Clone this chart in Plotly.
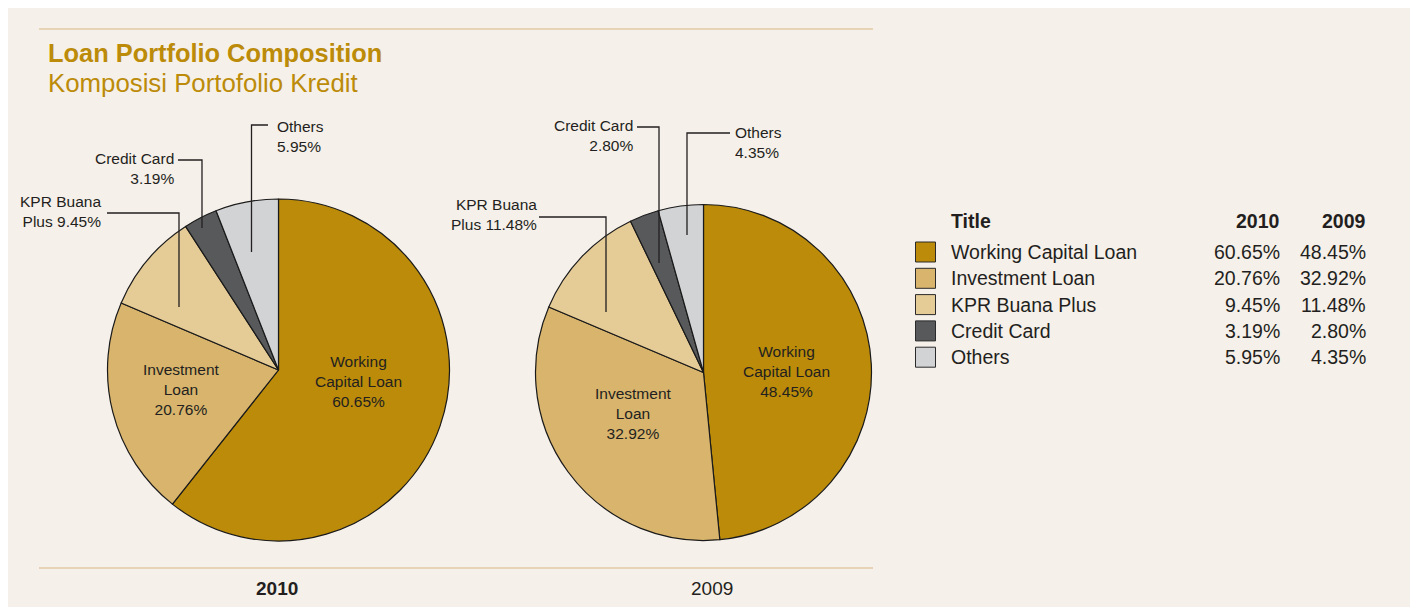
import plotly.graph_objects as go

# ---------------- data ----------------
categories = ["Working Capital Loan", "Investment Loan", "KPR Buana Plus", "Credit Card", "Others"]
pie_names = ["Working<br>Capital Loan", "Investment<br>Loan", "KPR Buana<br>Plus", "Credit Card", "Others"]
name_value_sep = ["<br>", "<br>", " ", "<br>", "<br>"]
values_2010 = [60.65, 20.76, 9.45, 3.19, 5.95]
values_2009 = [48.45, 32.92, 11.48, 2.80, 4.35]
years = ["2010", "2009"]
title_main = "Loan Portfolio Composition"
title_sub = "Komposisi Portofolio Kredit"
legend_header = "Title"

# ---------------- style ----------------
colors = ["#bb8b09", "#d8b46c", "#e5cb96", "#58595b", "#d1d3d4"]
BG = "#f6f0ea"
GOLD = "#bb8b09"
RULE = "#e2caa5"
TXT = "#231f20"
FONT = "Liberation Sans, Arial, Helvetica, sans-serif"

W, H = 1418, 599
OX, OY = 8, 8  # page body margin


def X(sx):
    return (sx - OX) / W


def Y(sy):
    return 1 - (sy - OY) / H


def pct(v):
    return f"{v:.2f}%"


fig = go.Figure()

pie_geom = [  # (cx, cy, r) in screen px
    (278.5, 370, 171),
    (703.5, 372.5, 168),
]
for vals, (cx, cy, r), yr in zip([values_2010, values_2009], pie_geom, years):
    fig.add_trace(go.Pie(
        labels=categories, values=vals, sort=False, direction="clockwise", rotation=0,
        marker=dict(colors=colors, line=dict(color="#1a1a1a", width=1.2)),
        textinfo="none", hoverinfo="label+percent", showlegend=False, name=yr,
        domain=dict(x=[X(cx - r), X(cx + r)], y=[Y(cy + r), Y(cy - r)]),
    ))

ann = []
shapes = []

# inside / outside label placement: (index, x, y, xanchor)
label_pos = [
    [(0, 358, 382, "center"), (1, 181, 389.5, "center"), (2, 103, 211, "right"),
     (3, 176, 168.5, "right"), (4, 275, 136.5, "left")],
    [(0, 786, 371.5, "center"), (1, 633, 413, "center"), (2, 539, 214.5, "right"),
     (3, 635, 135.5, "right"), (4, 733, 142, "left")],
]
for vals, plist in zip([values_2010, values_2009], label_pos):
    for i, sx, sy, xa in plist:
        ann.append(dict(
            x=X(sx), y=Y(sy), xref="paper", yref="paper", xanchor=xa, yanchor="middle",
            align=xa if xa != "center" else "center", showarrow=False,
            text=pie_names[i] + name_value_sep[i] + pct(vals[i]),
            font=dict(family=FONT, size=15.5, color=TXT),
        ))

leaders = [
    [(268, 125), (251.5, 125), (251.5, 252)],
    [(178, 160), (202, 160), (202, 228)],
    [(107, 213), (179, 213), (179, 307)],
    [(637, 127), (659, 127), (659, 263)],
    [(730, 133), (687, 133), (687, 235)],
    [(539, 217), (606, 217), (606, 312)],
]
for pts in leaders:
    path = "M " + " L ".join(f"{X(a):.5f},{Y(b):.5f}" for a, b in pts)
    shapes.append(dict(type="path", xref="paper", yref="paper", path=path,
                       line=dict(color="#231f20", width=1.3), layer="above"))

# rules
for sy in (29, 568):
    shapes.append(dict(type="line", xref="paper", yref="paper", x0=X(39), x1=X(873),
                       y0=Y(sy), y1=Y(sy), line=dict(color=RULE, width=1.5)))

# titles
ann.append(dict(x=X(46), y=Y(53), xref="paper", yref="paper", xanchor="left", yanchor="middle",
                showarrow=False, text=f"<b>{title_main}</b>",
                font=dict(family=FONT, size=25.4, color=GOLD)))
ann.append(dict(x=X(46), y=Y(83), xref="paper", yref="paper", xanchor="left", yanchor="middle",
                showarrow=False, text=title_sub,
                font=dict(family=FONT, size=25.8, color=GOLD)))

# year labels under pies
for yr, sx, bold in zip(years, [277, 712], [True, False]):
    ann.append(dict(x=X(sx), y=Y(588), xref="paper", yref="paper", xanchor="center", yanchor="middle",
                    showarrow=False, text=f"<b>{yr}</b>" if bold else yr,
                    font=dict(family=FONT, size=19, color=TXT)))

# legend table
LF = 19.5
ann.append(dict(x=X(949), y=Y(221), xref="paper", yref="paper", xanchor="left", yanchor="middle",
                showarrow=False, text=f"<b>{legend_header}</b>", font=dict(family=FONT, size=LF, color=TXT)))
for yr, sx in zip(years, [1282, 1368]):
    ann.append(dict(x=X(sx), y=Y(221), xref="paper", yref="paper", xanchor="right", yanchor="middle",
                    showarrow=False, text=f"<b>{yr}</b>", font=dict(family=FONT, size=LF, color=TXT)))
row_y = [252, 278.3, 304.6, 330.9, 357.2]
for i, cat in enumerate(categories):
    sy = row_y[i]
    shapes.append(dict(type="rect", xref="paper", yref="paper", x0=X(915.5), x1=X(935.5),
                       y0=Y(sy - 10), y1=Y(sy + 10), fillcolor=colors[i],
                       line=dict(color="#2a2a2a", width=1)))
    ann.append(dict(x=X(949), y=Y(sy), xref="paper", yref="paper", xanchor="left", yanchor="middle",
                    showarrow=False, text=cat, font=dict(family=FONT, size=LF, color=TXT)))
    for vals, sx in zip([values_2010, values_2009], [1282, 1368]):
        ann.append(dict(x=X(sx), y=Y(sy), xref="paper", yref="paper", xanchor="right", yanchor="middle",
                        showarrow=False, text=pct(vals[i]), font=dict(family=FONT, size=LF, color=TXT)))

fig.update_layout(
    width=W, height=H, autosize=False,
    margin=dict(l=0, r=0, t=0, b=0, pad=0),
    paper_bgcolor=BG, plot_bgcolor=BG,
    annotations=ann, shapes=shapes, showlegend=False,
    font=dict(family=FONT, color=TXT),
)

fig.write_html("out.html")
